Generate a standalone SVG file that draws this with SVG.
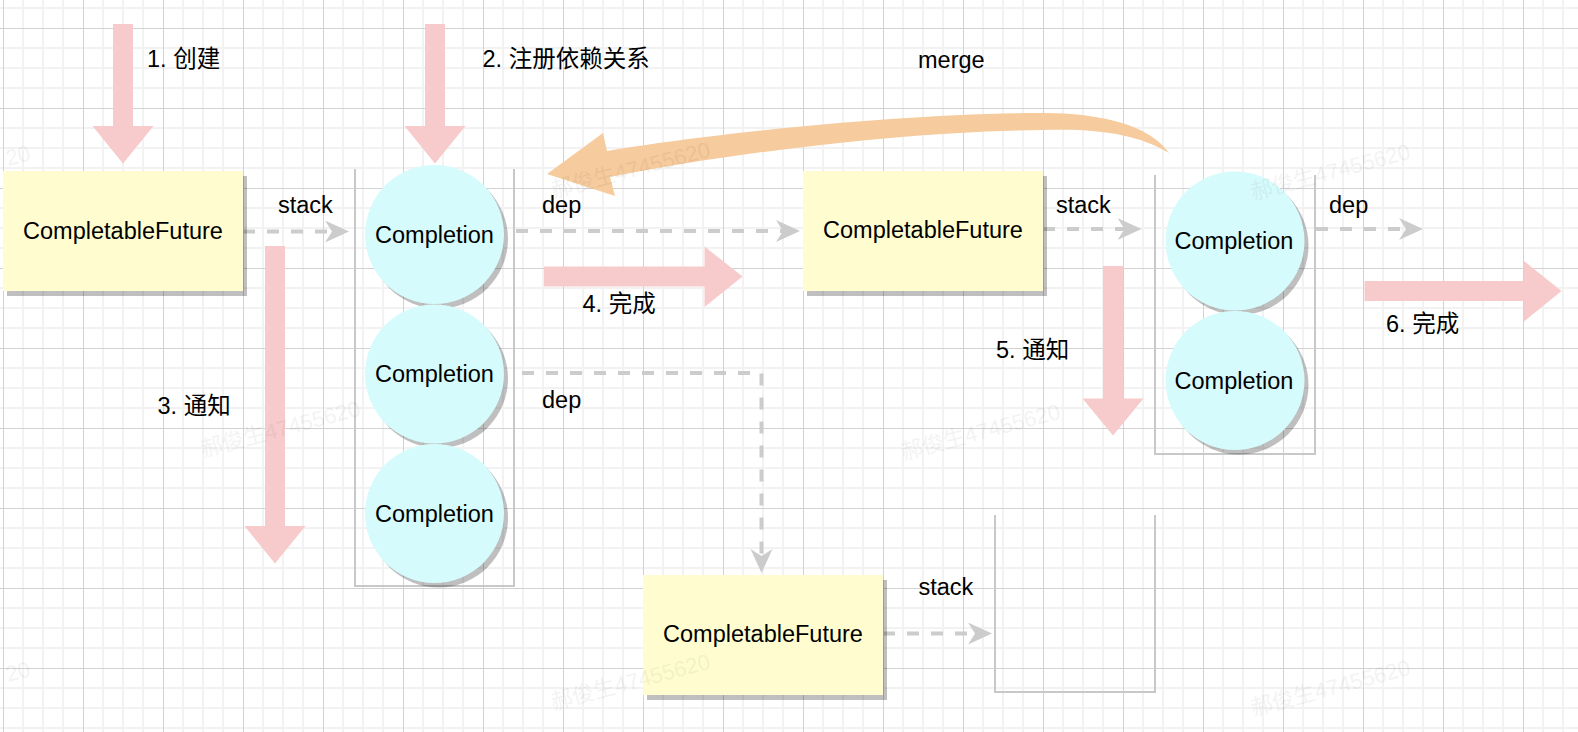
<svg xmlns="http://www.w3.org/2000/svg" width="1578" height="732" viewBox="0 0 1578 732">
<style>
text{font-family:"Liberation Sans","Noto Sans CJK SC",Arial,sans-serif;font-size:23.5px;fill:#000}
.box{fill:#FFFDD0}
.circ{fill:#D6FBFC}
.shadow{fill:#000;opacity:0.25}
.stk{fill:none;stroke:#c8c8c8;stroke-width:2}
.dash{fill:none;stroke:#cccccc;stroke-width:4;stroke-dasharray:12 12}
.pink{fill:#F7CBCB}
.wm{font-size:22px;fill:#000;opacity:0.045}
.mid{text-anchor:middle}
</style>
<defs>
<pattern id="grid" width="80" height="80" patternUnits="userSpaceOnUse" x="3" y="28">
<path d="M20,0V80M40,0V80M60,0V80M0,20H80M0,40H80M0,60H80" stroke="#f2f2f2" stroke-width="2" fill="none"/>
<path d="M0.5,0V80M0,0.5H80" stroke="#d2d2d2" stroke-width="1" fill="none"/>
</pattern>
<marker id="ah" markerUnits="userSpaceOnUse" markerWidth="26" markerHeight="24" refX="14" refY="11" orient="auto" viewBox="0 0 26 24">
<path d="M0,0 L24,11 L0,22 L7,11 Z" fill="#cccccc"/>
</marker>
</defs>
<rect x="0" y="0" width="1578" height="732" fill="#ffffff"/>
<rect x="0" y="0" width="1578" height="732" fill="url(#grid)"/>

<g id="stack1"><path class="stk" d="M355,169 V586 H514 V169"/></g>
<g id="stack2"><path class="stk" d="M1155,175 V454 H1315 V175"/></g>
<g id="stack3"><path class="stk" d="M995,515 V692 H1155 V515"/></g>

<g id="connectors">
<path class="dash" d="M243,231.5 H339" marker-end="url(#ah)"/>
<path class="dash" d="M516,231 H790" marker-end="url(#ah)"/>
<path class="dash" d="M522,373 H761.5 V563" marker-end="url(#ah)"/>
<path class="dash" d="M1043,229 H1131.5" marker-end="url(#ah)"/>
<path class="dash" d="M1316,229 H1413" marker-end="url(#ah)"/>
<path class="dash" d="M883,633.5 H982" marker-end="url(#ah)"/>
</g>

<g id="future1">
<rect class="shadow" x="7" y="176" width="240" height="120"/>
<rect class="box" x="3" y="171" width="240" height="120"/>
<text class="mid" x="123" y="239">CompletableFuture</text>
</g>
<g id="future2">
<rect class="shadow" x="807" y="176" width="240" height="120"/>
<rect class="box" x="803" y="171" width="240" height="120"/>
<text class="mid" x="923" y="237.5">CompletableFuture</text>
</g>
<g id="future3">
<rect class="shadow" x="647" y="580" width="240" height="120"/>
<rect class="box" x="643" y="575" width="240" height="120"/>
<text class="mid" x="763" y="641.5">CompletableFuture</text>
</g>

<g id="completion1a">
<circle class="shadow" cx="438.5" cy="239" r="69.5"/>
<circle class="circ" cx="434.5" cy="234.5" r="69.5"/>
<text class="mid" x="434.5" y="243">Completion</text>
</g>
<g id="completion1b">
<circle class="shadow" cx="438.5" cy="378.5" r="69.5"/>
<circle class="circ" cx="434.5" cy="374" r="69.5"/>
<text class="mid" x="434.5" y="382">Completion</text>
</g>
<g id="completion1c">
<circle class="shadow" cx="438.5" cy="518" r="69.5"/>
<circle class="circ" cx="434.5" cy="513.5" r="69.5"/>
<text class="mid" x="434.5" y="521.5">Completion</text>
</g>
<g id="completion2a">
<circle class="shadow" cx="1239" cy="245.5" r="69.5"/>
<circle class="circ" cx="1235" cy="241" r="69.5"/>
<text class="mid" x="1234" y="249">Completion</text>
</g>
<g id="completion2b">
<circle class="shadow" cx="1239" cy="385" r="69.5"/>
<circle class="circ" cx="1235" cy="380.5" r="69.5"/>
<text class="mid" x="1234" y="388.5">Completion</text>
</g>

<g id="arrow1"><polygon class="pink" points="113,24 133,24 133,126 153.5,126 123,163.5 92.5,126 113,126"/></g>
<g id="arrow2"><polygon class="pink" points="425,24 445,24 445,126 465.5,126 435,163.5 404.5,126 425,126"/></g>
<g id="arrow3"><polygon class="pink" points="265,246 285,246 285,526 305.5,526 275,563.5 244.5,526 265,526"/></g>
<g id="arrow5"><polygon class="pink" points="1103,266 1123,266 1123,398.5 1143.5,398.5 1113,435.5 1082.5,398.5 1103,398.5"/></g>
<g id="arrow4"><polygon class="pink" points="544,266.5 704.5,266.5 704.5,246.5 742.5,276.5 704.5,307 704.5,286.5 544,286.5"/></g>
<g id="arrow6"><polygon class="pink" points="1364.5,281 1524,281 1524,261 1561.5,291 1524,321.5 1524,301 1364.5,301"/></g>

<g id="merge-arrow">
<path fill="#F6CB9D" d="M547,174 L603,133 L607,151 C700,135 900,113 1043,113 C1100,113 1150,125 1169,153 C1140,135 1100,128 1043,130 C900,131 720,155 610,177 L615,196 Z"/>
</g>

<g id="labels">
<text x="147" y="66.5">1. 创建</text>
<text x="482.5" y="66.5">2. 注册依赖关系</text>
<text x="918" y="67.5">merge</text>
<text x="278" y="213">stack</text>
<text x="542" y="213">dep</text>
<text x="1056" y="213">stack</text>
<text x="1329" y="213">dep</text>
<text x="582.5" y="311.5">4. 完成</text>
<text x="996" y="358">5. 通知</text>
<text x="1386" y="331.5">6. 完成</text>
<text x="157.5" y="414">3. 通知</text>
<text x="542" y="407.5">dep</text>
<text x="918.5" y="595">stack</text>
</g>

<g id="watermarks">
<text class="wm" transform="translate(8,166) rotate(-14.7)">20</text>
<text class="wm" transform="translate(553,198) rotate(-14.7)">郝俊生47455620</text>
<text class="wm" transform="translate(1253,200) rotate(-14.7)">郝俊生47455620</text>
<text class="wm" transform="translate(203,457) rotate(-14.7)">郝俊生47455620</text>
<text class="wm" transform="translate(903,460) rotate(-14.7)">郝俊生47455620</text>
<text class="wm" transform="translate(8,682) rotate(-14.7)">20</text>
<text class="wm" transform="translate(553,710) rotate(-14.7)">郝俊生47455620</text>
<text class="wm" transform="translate(1253,716) rotate(-14.7)">郝俊生47455620</text>
</g>
</svg>
